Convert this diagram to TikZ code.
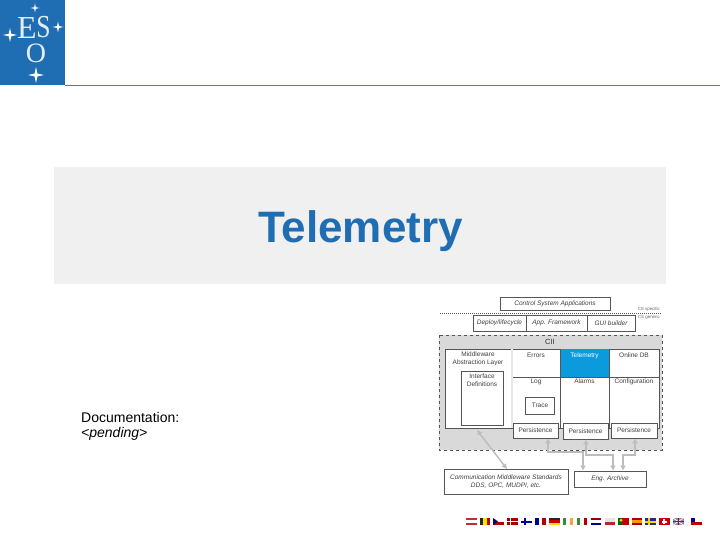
\documentclass[tikz,border=0pt]{standalone}
\usepackage{fontspec}
\setmainfont{Liberation Sans}
\newfontfamily\logofont{Liberation Serif}
\usetikzlibrary{arrows.meta}
\definecolor{esoblue}{HTML}{1F6DB2}
\definecolor{rulecol}{HTML}{3A7FB0}
\definecolor{bandcol}{HTML}{F0F0F0}
\definecolor{ciigray}{HTML}{D9D9D9}
\definecolor{telecol}{HTML}{0B9BDC}
\definecolor{edgecol}{HTML}{555555}
\definecolor{linkcol}{HTML}{BDBDBD}
\tikzset{
  cell/.style={draw=edgecol, fill=white, line width=0.7pt, inner sep=0pt, align=center, font=\fontsize{6.5}{7.7}\selectfont, text=black!75},
  slant/.style={cell, font=\fontsize{6.5}{7.7}\selectfont\itshape},
  tag/.style={inner sep=0pt, font=\fontsize{4.4}{5}\selectfont, text=black!60},
  link/.style={draw=linkcol, line width=1.5pt, {Latex[length=5pt,width=6pt]}-{Latex[length=5pt,width=6pt]}},
  logoletter/.style={inner sep=0pt, text=white!88!esoblue, font=\logofont},
}
% four pointed star of the logo
\newcommand{\logostar}[3]{\fill[white] (#1-#3,#2) -- (#1-0.18*#3,#2-0.18*#3) -- (#1,#2-#3) -- (#1+0.18*#3,#2-0.18*#3) -- (#1+#3,#2) -- (#1+0.18*#3,#2+0.18*#3) -- (#1,#2+#3) -- (#1-0.18*#3,#2+0.18*#3) -- cycle;}
% flags with three bands
\newcommand{\hflag}[4]{\fill[#2] (#1,518) rectangle ++(10.5,2.4); \fill[#3] (#1,520.4) rectangle ++(10.5,2.3); \fill[#4] (#1,522.7) rectangle ++(10.5,2.4);}
\newcommand{\vflag}[4]{\fill[#2] (#1,518) rectangle ++(3.5,7.1); \fill[#3] (#1+3.5,518) rectangle ++(3.5,7.1); \fill[#4] (#1+7,518) rectangle ++(3.5,7.1);}
\begin{document}
\begin{tikzpicture}[x=1pt,y=-1pt]
\useasboundingbox (0,0) rectangle (720,540);

% Header
\fill[esoblue] (0,0) rectangle (65,85);
\draw[rulecol, line width=0.8pt] (65,85.5) -- (720,85.5);
\node[logoletter, font=\logofont\fontsize{32}{32}\selectfont] (logoE) at (27,28) {E};
\node[logoletter, font=\logofont\fontsize{32}{32}\selectfont, xscale=0.8] (logoS) at (43.5,27) {S};
\node[logoletter, font=\logofont\fontsize{28}{28}\selectfont] (logoO) at (36,53) {O};
\logostar{35}{8}{4.5}
\logostar{10}{35}{7}
\logostar{58}{27}{5.5}
\logostar{36}{75}{8}

% Title band
\fill[bandcol] (54,167) rectangle (666,284);
\node[font=\bfseries\fontsize{44}{44}\selectfont, text=esoblue] (title) at (360.5,231) {Telemetry};

% Left text
\node[anchor=west, inner sep=0pt, font=\fontsize{14}{14}\selectfont] (docs) at (81,417) {Documentation:};
\node[anchor=west, inner sep=0pt, font=\itshape\fontsize{14}{14}\selectfont] (pending) at (81,434) {<pending>};

% Top layers
\node[slant, minimum width=110pt, minimum height=13pt] (apps) at (555,303.5) {Control System Applications};
\draw[black!65, densely dotted, line width=1pt] (440,313.5) -- (662,313.5);
\node[tag, anchor=east] (csspec) at (660,309) {CS specific};
\node[tag, anchor=east] (csgen) at (660,317) {CS generic};
\node[slant, minimum width=53pt, minimum height=16pt] (deploy) at (499.5,323) {Deploy/lifecycle};
\node[slant, minimum width=61pt, minimum height=16pt] (framework) at (556.5,323) {App. Framework};
\node[slant, minimum width=48pt, minimum height=16pt] (gui) at (611,323) {GUI builder};

% CII block
\draw[edgecol, dashed, fill=ciigray, line width=0.6pt] (439,335) rectangle (662,450);
\node[inner sep=0pt, font=\fontsize{7.5}{7.5}\selectfont, text=black!80] (cii) at (550,342) {CII};
\fill[white] (445,349) rectangle (659,428);
\draw[edgecol, line width=0.7pt] (445,349) rectangle (659,428);
\fill[ciigray!60] (511,349) rectangle (513,428);
\fill[telecol] (560,349) rectangle (609,377);
\draw[edgecol, line width=0.6pt] (513,377) -- (659,377);
\draw[edgecol, line width=0.7pt] (560,349) -- (560,428);
\draw[edgecol, line width=0.7pt] (609,349) -- (609,428);
\node[cell, draw=none, fill=none] (middleware) at (478,359) {Middleware\\Abstraction Layer};
\node[cell, anchor=north, minimum width=42pt, minimum height=54pt] (iface) at (482,371) {};
\node[cell, draw=none, fill=none] (ifacetxt) at (482,380.5) {Interface\\Definitions};
\node[cell, draw=none, fill=none] (errors) at (536,355.5) {Errors};
\node[cell, draw=none, fill=none, text=white] (telemetry) at (584.5,355.5) {Telemetry};
\node[cell, draw=none, fill=none] (onlinedb) at (634,355.5) {Online DB};
\node[cell, draw=none, fill=none] (log) at (536,381.5) {Log};
\node[cell, draw=none, fill=none] (alarms) at (584.5,381.5) {Alarms};
\node[cell, draw=none, fill=none] (config) at (634,381.5) {Configuration};
\node[cell, minimum width=29pt, minimum height=17pt] (tracebox) at (540,405.5) {Trace};
\node[cell, minimum width=45pt, minimum height=15pt] (persistA) at (535.5,430.5) {Persistence};
\node[cell, minimum width=45pt, minimum height=16pt] (persistB) at (585.5,431) {Persistence};
\node[cell, minimum width=46pt, minimum height=15pt] (persistC) at (634,430.5) {Persistence};

% Lower boxes
\node[slant, draw=edgecol, line width=1pt, minimum width=124pt, minimum height=25pt] (comm) at (506,481.5) {Communication Middleware Standards\\DDS, OPC, MUDPI, etc.};
\node[slant, minimum width=72pt, minimum height=16pt] (archive) at (610,479) {Eng. Archive};
\coordinate (commup) at (507,469);
\coordinate (commend) at (477,430);

% Links
\draw[link] (commup) -- (commend);
\draw[link] (persistA.south -| 548,0) |- (583,452) -- (archive.north -| 583,0);
\draw[link] (persistB.south -| 586,0) |- (613,455) -- (archive.north -| 613,0);
\draw[link] (persistC.south -| 635,0) |- (623,455) -- (archive.north -| 623,0);

% Flags
\hflag{466}{red!65!black!80}{white}{red!65!black!80}
\vflag{479.5}{black!85}{yellow!85!orange}{red!75!black}
\fill[white] (493,518) rectangle ++(10.5,3.5); \fill[red!70!black] (493,521.5) rectangle ++(10.5,3.6);
\fill[blue!55!black] (493,518) -- (498,521.5) -- (493,525.1) -- cycle;
\fill[red!65!black] (507,518) rectangle ++(10.5,7.1);
\fill[white] (510,518) rectangle ++(1.4,7.1); \fill[white] (507,520.9) rectangle ++(10.5,1.4);
\fill[white] (521,518) rectangle ++(10.5,7.1);
\fill[blue!60!black] (524,518) rectangle ++(1.8,7.1); \fill[blue!60!black] (521,520.7) rectangle ++(10.5,1.8);
\vflag{535}{blue!60!black}{white}{red!70!black}
\hflag{549}{black!85}{red!80!black}{yellow!80!orange}
\vflag{562.5}{green!45!black!80}{white}{orange!75!white}
\vflag{576.5}{green!45!black!80}{white}{red!70!black}
\hflag{590.5}{red!60!black}{white}{blue!50!black}
\fill[white!90!black] (604.5,518) rectangle ++(10.5,3.5); \fill[red!70!black!85] (604.5,521.5) rectangle ++(10.5,3.6);
\fill[red!75!black] (618,518) rectangle ++(10.5,7.1); \fill[green!40!black] (618,518) rectangle ++(4.2,7.1);
\fill[yellow!70!orange] (621,520.3) circle (1.6pt);
\hflag{631.5}{red!70!black}{orange!80!yellow}{red!70!black}
\fill[blue!50!black!85] (645,518) rectangle ++(10.5,7.1);
\fill[yellow!75!orange] (648,518) rectangle ++(1.8,7.1); \fill[yellow!75!orange] (645,520.7) rectangle ++(10.5,1.8);
\fill[red!80!black] (659,518) rectangle ++(10.5,7.1);
\fill[white] (663.2,519.3) rectangle ++(2,4.5); \fill[white] (662,520.6) rectangle ++(4.5,1.9);
\fill[blue!30!black!45] (673,518) rectangle ++(10.5,7.1);
\draw[white, line width=0.7pt] (673,518) -- (683.5,525.1) (673,525.1) -- (683.5,518);
\draw[white, line width=1.4pt] (678.2,518) -- (678.2,525.1) (673,521.5) -- (683.5,521.5);
\draw[red!75!black, line width=0.7pt] (678.2,518) -- (678.2,525.1) (673,521.5) -- (683.5,521.5);
\fill[white] (691,518) rectangle ++(10.5,3.5); \fill[red!75!black] (691,521.5) rectangle ++(10.5,3.6);
\fill[blue!60!black] (691,518) rectangle ++(3.5,3.5);
\end{tikzpicture}
\end{document}
